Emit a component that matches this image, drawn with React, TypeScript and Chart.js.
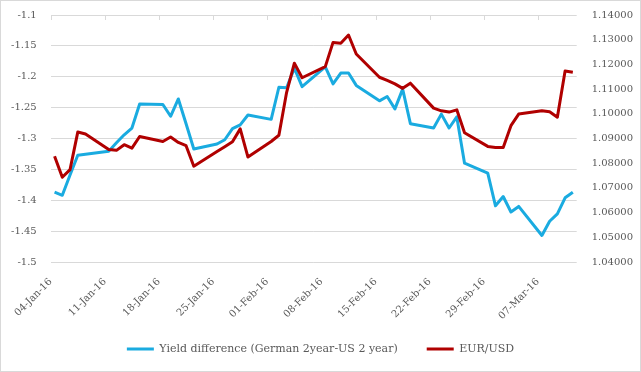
import React, { useEffect, useRef } from 'react';
import { Chart, registerables } from 'chart.js';

Chart.register(...registerables);

// ---- data ----
const startDate = '2016-01-04';
const dates = [
  '2016-01-04', '2016-01-05', '2016-01-06', '2016-01-07', '2016-01-08',
  '2016-01-11', '2016-01-12', '2016-01-13', '2016-01-14', '2016-01-15',
  '2016-01-18', '2016-01-19', '2016-01-20', '2016-01-21', '2016-01-22',
  '2016-01-25', '2016-01-26', '2016-01-27', '2016-01-28', '2016-01-29',
  '2016-02-01', '2016-02-02', '2016-02-03', '2016-02-04', '2016-02-05',
  '2016-02-08', '2016-02-09', '2016-02-10', '2016-02-11', '2016-02-12',
  '2016-02-15', '2016-02-16', '2016-02-17', '2016-02-18', '2016-02-19',
  '2016-02-22', '2016-02-23', '2016-02-24', '2016-02-25', '2016-02-26',
  '2016-02-29', '2016-03-01', '2016-03-02', '2016-03-03', '2016-03-04',
  '2016-03-07', '2016-03-08', '2016-03-09', '2016-03-10', '2016-03-11',
];
const yieldDiff = [
  -1.387, -1.392, -1.359, -1.327, -1.3255,
  -1.3206, -1.307, -1.294, -1.283, -1.244,
  -1.245, -1.264, -1.236, -1.276, -1.317,
  -1.309, -1.302, -1.284, -1.278, -1.262,
  -1.269, -1.217, -1.218, -1.186, -1.216,
  -1.184, -1.2115, -1.194, -1.194, -1.214,
  -1.239, -1.232, -1.252, -1.22, -1.276,
  -1.283, -1.2605, -1.283, -1.265, -1.34,
  -1.356, -1.409, -1.394, -1.419, -1.41,
  -1.457, -1.434, -1.422, -1.396, -1.387,
];
const eurUsd = [
  1.0828, 1.0743, 1.0774, 1.0926, 1.0918,
  1.0855, 1.0852, 1.0875, 1.0861, 1.0908,
  1.0888, 1.0906, 1.0884, 1.0871, 1.0788,
  1.0847, 1.0867, 1.0887, 1.0939, 1.0825,
  1.0888, 1.0913, 1.1087, 1.1205, 1.1146,
  1.1191, 1.1289, 1.1286, 1.1319, 1.1242,
  1.1148, 1.1135, 1.1121, 1.1103, 1.1124,
  1.1023, 1.1012, 1.1007, 1.1016, 1.0923,
  1.0868, 1.0864, 1.0864, 1.0952, 1.0999,
  1.1012, 1.1008, 1.0986, 1.1173, 1.1168,
];
const seriesNames = ['Yield difference (German 2year-US 2 year)', 'EUR/USD'];
const xTickDays = [0, 7, 14, 21, 28, 35, 42, 49, 56, 63];
const xTickLabels = [
  '04-Jan-16', '11-Jan-16', '18-Jan-16', '25-Jan-16', '01-Feb-16',
  '08-Feb-16', '15-Feb-16', '22-Feb-16', '29-Feb-16', '07-Mar-16',
];
const leftTicks = [-1.5, -1.45, -1.4, -1.35, -1.3, -1.25, -1.2, -1.15, -1.1];
const rightTicks = [1.04, 1.05, 1.06, 1.07, 1.08, 1.09, 1.1, 1.11, 1.12, 1.13, 1.14];
const axisDays = 68;

const dayOf = (iso: string) => (Date.parse(iso) - Date.parse(startDate)) / 86400000;

const BLUE = '#1AABE0';
const RED = '#B00000';
const GRID = '#d9d9d9';
const TEXT = '#595959';
const FONT = 'DejaVu Serif';

const topTicks = {
  id: 'topTicks',
  beforeDatasetsDraw(chart: any) {
    const { ctx, chartArea, scales } = chart;
    const xs = scales.x;
    ctx.save();
    ctx.strokeStyle = GRID;
    ctx.lineWidth = 1;
    xs.ticks.forEach((t: any) => {
      const px = Math.round(xs.getPixelForValue(t.value)) + 0.5;
      ctx.beginPath();
      ctx.moveTo(px, chartArea.top);
      ctx.lineTo(px, chartArea.top + 5);
      ctx.stroke();
    });
    ctx.restore();
  },
};

export default function App() {
  const ref = useRef<HTMLCanvasElement | null>(null);

  useEffect(() => {
    if (!ref.current) return;
    const blueData = dates.map((d, i) => ({ x: dayOf(d) + 0.5, y: yieldDiff[i] }));
    const redData = dates.map((d, i) => ({ x: dayOf(d) + 0.5, y: eurUsd[i] }));
    const chart = new Chart(ref.current, {
      type: 'line',
      data: {
        datasets: [
          {
            label: seriesNames[0],
            data: blueData,
            borderColor: BLUE,
            backgroundColor: BLUE,
            borderWidth: 3,
            pointRadius: 0,
            tension: 0,
            borderJoinStyle: 'round',
            yAxisID: 'y',
            order: 1,
          },
          {
            label: seriesNames[1],
            data: redData,
            borderColor: RED,
            backgroundColor: RED,
            borderWidth: 3,
            pointRadius: 0,
            tension: 0,
            borderJoinStyle: 'round',
            yAxisID: 'y2',
            order: 0,
          },
        ],
      },
      options: {
        responsive: false,
        animation: false,
        events: [],
        layout: { padding: { top: 14, bottom: 6.5, left: 0, right: 0 } },
        scales: {
          x: {
            type: 'linear',
            min: 0,
            max: axisDays,
            afterBuildTicks: (s: any) => {
              s.ticks = xTickDays.map((v) => ({ value: v }));
            },
            afterFit: (s: any) => {
              s.height = 52.5;
              // let the rotated labels run past the axis box (no clipping)
              s._computeLabelArea = () => undefined;
            },
            ticks: {
              autoSkip: false,
              maxRotation: 45,
              minRotation: 45,
              padding: 2,
              color: TEXT,
              font: { family: FONT, size: 10 },
              callback: (_v: any, i: number) => xTickLabels[i],
            },
            grid: {
              display: true,
              drawOnChartArea: false,
              drawTicks: true,
              tickLength: 12,
              tickColor: 'rgba(0,0,0,0)',
            },
            border: { display: false },
          },
          y: {
            position: 'left',
            min: -1.5,
            max: -1.1,
            afterBuildTicks: (s: any) => {
              s.ticks = leftTicks.map((v) => ({ value: v }));
            },
            afterFit: (s: any) => {
              s.width = 49.7;
            },
            ticks: {
              padding: 0,
              color: TEXT,
              font: { family: FONT, size: 10 },
              callback: (v: any) => String(Math.round(Number(v) * 100) / 100),
            },
            grid: {
              color: GRID,
              lineWidth: 1,
              drawTicks: true,
              tickLength: 14,
              tickColor: 'rgba(0,0,0,0)',
            },
            border: { display: false },
          },
          y2: {
            position: 'right',
            min: 1.04,
            max: 1.14,
            afterBuildTicks: (s: any) => {
              s.ticks = rightTicks.map((v) => ({ value: v }));
            },
            afterFit: (s: any) => {
              s.width = 63.3;
            },
            ticks: {
              padding: 0,
              color: TEXT,
              font: { family: FONT, size: 10 },
              callback: (v: any) => Number(v).toFixed(5),
            },
            grid: {
              drawOnChartArea: false,
              drawTicks: true,
              tickLength: 15,
              tickColor: 'rgba(0,0,0,0)',
            },
            border: { display: false },
          },
        },
        plugins: {
          tooltip: { enabled: false },
          title: { display: false },
          legend: {
            position: 'bottom',
            labels: {
              boxWidth: 27,
              boxHeight: 3,
              padding: 29,
              color: TEXT,
              font: { family: FONT, size: 11 },
              sort: (a: any, b: any) => a.datasetIndex - b.datasetIndex,
              generateLabels: (c: any) =>
                (Chart.defaults.plugins.legend.labels.generateLabels as any)(c).map((l: any) => ({
                  ...l,
                  lineWidth: 0,
                })),
            },
          },
        },
      },
      plugins: [topTicks],
    } as any);
    return () => chart.destroy();
  }, []);

  return (
    <div
      style={{
        position: 'absolute',
        left: 0,
        top: 0,
        width: 641,
        height: 372,
        boxSizing: 'border-box',
        border: '1px solid #d9d9d9',
        background: '#ffffff',
      }}
    >
      <canvas ref={ref} width={639} height={370} style={{ display: 'block', width: 639, height: 370 }} />
    </div>
  );
}
